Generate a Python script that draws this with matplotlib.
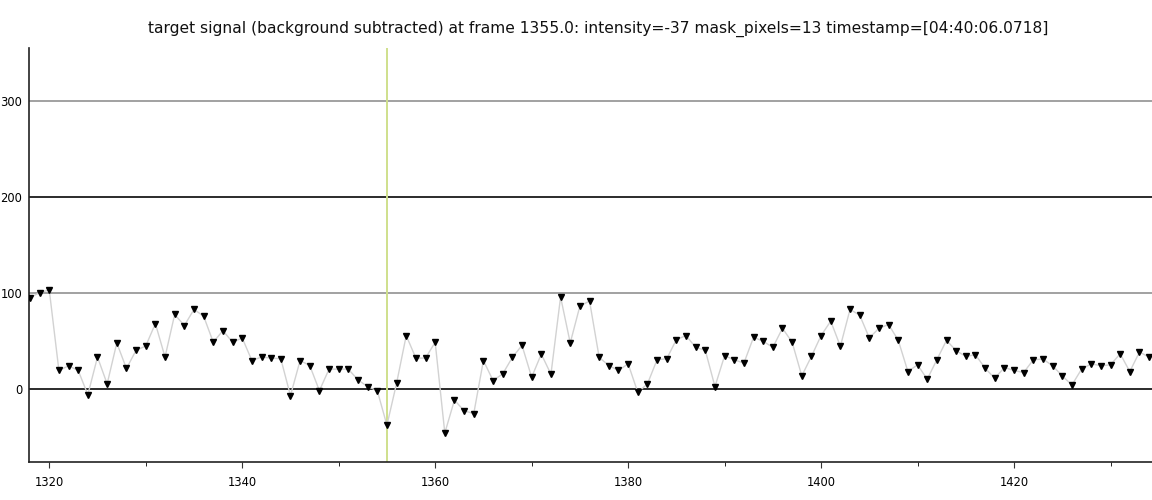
import numpy as np
import matplotlib
matplotlib.use('Agg')
import matplotlib.pyplot as plt

# Frames and background-subtracted intensity
frames = np.arange(1318, 1435)
intensity = [
    95.5, 100.7, 103.5, 19.6, 24.5, 19.6, -5.6, 33.6, 5.6, 48.3,
    21.7, 40.6, 45.1, 68.5, 33.6, 78.0, 66.4, 83.2, 76.2, 49.0,
    61.2, 49.0, 53.5, 30.0, 33.6, 32.5, 31.8, -6.6, 30.0, 24.8,
    -1.4, 21.0, 21.0, 21.0, 9.8, 2.8, -1.4, -37.4, 6.3, 56.0,
    32.5, 32.5, 49.0, -45.5, -11.2, -22.4, -25.2, 30.0, 9.1, 16.1,
    33.2, 45.8, 12.6, 36.7, 15.7, 96.2, 48.3, 86.7, 92.0, 33.2,
    24.8, 19.6, 26.6, -3.1, 5.6, 30.8, 31.8, 51.7, 56.0, 43.7,
    40.6, 2.8, 35.0, 30.8, 27.3, 54.2, 50.0, 43.7, 63.6, 49.0,
    14.0, 34.3, 56.0, 71.0, 44.8, 83.2, 77.3, 53.5, 63.6, 67.5,
    51.0, 18.5, 25.5, 10.5, 30.8, 51.0, 40.2, 34.3, 36.0, 22.0,
    11.5, 22.7, 19.6, 17.5, 30.8, 31.5, 24.5, 14.0, 4.5, 21.0,
    26.6, 24.5, 25.5, 37.0, 18.5, 38.8, 33.6,
]
current_frame = 1355
ref_levels = [0, 100, 200, 300]
ref_colors = ['#1a1a1a', '#9a9a9a', '#1a1a1a', '#9a9a9a']
title = ('target signal (background subtracted) at frame 1355.0: intensity=-37 '
         'mask_pixels=13 timestamp=[04:40:06.0718]')

fig = plt.figure(figsize=(11.52, 5.0), dpi=100)
ax = fig.add_axes([29 / 1152, 38 / 500, 1 - 29 / 1152, (462 - 47.7) / 500])

for lvl, col in zip(ref_levels, ref_colors):
    ax.axhline(lvl, color=col, lw=1.3, zorder=1)
ax.axvline(current_frame, color='#cfe08c', lw=1.4, zorder=2)

ax.plot(frames, intensity, color='#d2d2d2', lw=1.0, zorder=3)
ax.plot(frames, intensity, ls='none', marker='v', ms=4.6, color='black', zorder=4)

ax.set_xlim(1317.9, 1434.3)
ax.set_ylim(-75.7, 355.8)
ax.set_xticks([1320, 1340, 1360, 1380, 1400, 1420])
ax.set_xticks([1330, 1350, 1370, 1390, 1410, 1430], minor=True)
ax.set_yticks([0, 100, 200, 300])
ax.tick_params(axis='both', labelsize=8.3, color='#333333', length=4, width=0.8)
ax.tick_params(axis='x', which='minor', length=3, width=0.6)
ax.tick_params(axis='y', length=0, pad=5)
ax.tick_params(axis='x', pad=6)

for side in ['top', 'right']:
    ax.spines[side].set_visible(False)
for side in ['left', 'bottom']:
    ax.spines[side].set_color('#222222')
    ax.spines[side].set_linewidth(1.2)

fig.text(598 / 1152, 1 - 29 / 500, title, ha='center', va='center', fontsize=11.2, color='#111111')

fig.savefig('out.png', dpi=100)
